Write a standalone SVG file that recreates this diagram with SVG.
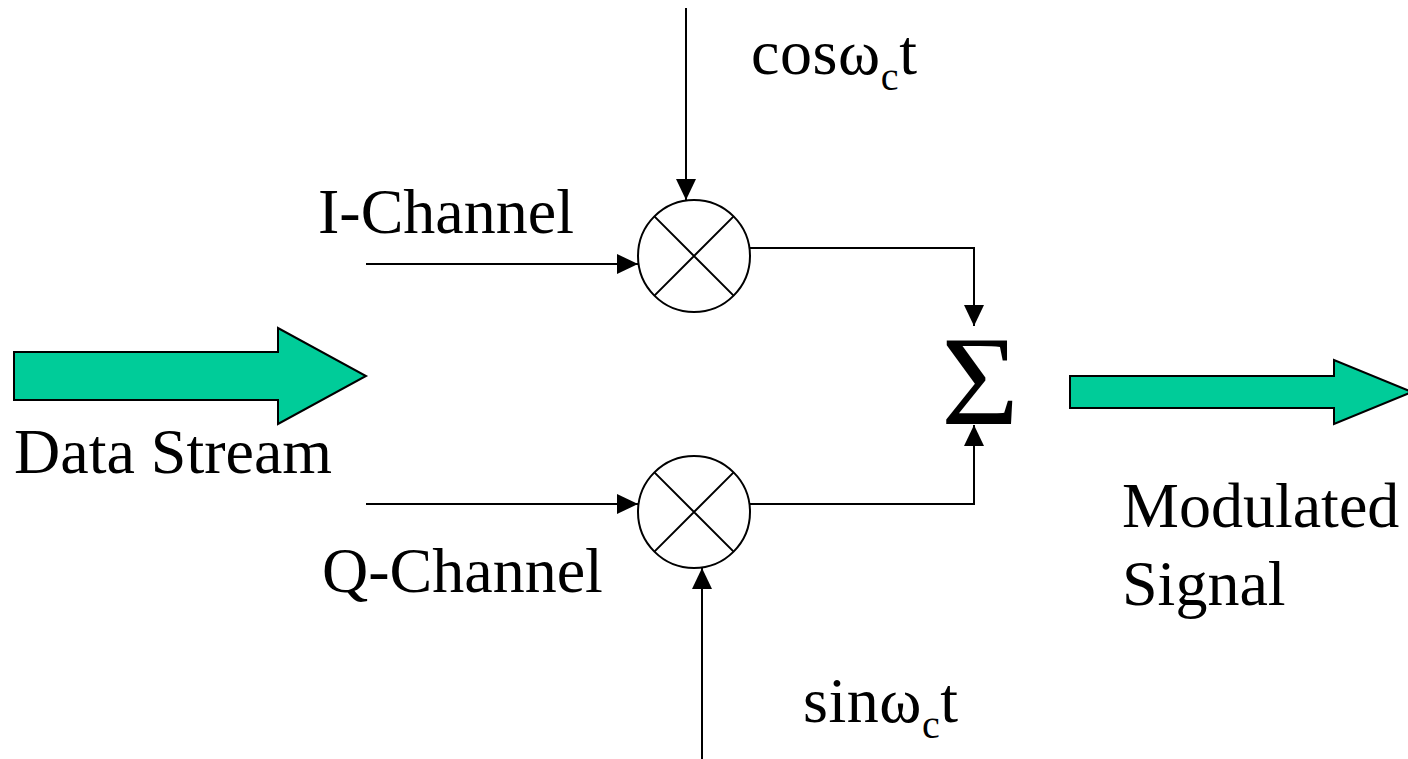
<svg xmlns="http://www.w3.org/2000/svg" width="1408" height="759" viewBox="0 0 1408 759">
<style>
text{font-family:"Liberation Serif","Times New Roman",serif;font-size:64px;fill:#000}
.sub{font-size:40px}
.w{fill:none;stroke:#000;stroke-width:2}
.big{fill:#00cc99;stroke:#000;stroke-width:2}
.mix{fill:#fff;stroke:#000;stroke-width:2}
</style>
<defs><marker id="a" markerUnits="userSpaceOnUse" markerWidth="22" markerHeight="20" refX="21" refY="10" orient="auto"><path d="M0 0L21 10L0 20Z" fill="#000"/></marker></defs>
<rect width="1408" height="759" fill="#fff"/>
<g id="connectors">
<path class="w" marker-end="url(#a)" d="M686 8V200"/>
<path class="w" marker-end="url(#a)" d="M366 264H638"/>
<path class="w" marker-end="url(#a)" d="M366 504H638"/>
<path class="w" marker-end="url(#a)" d="M702 759V568"/>
<path class="w" marker-end="url(#a)" d="M750 248H974V326"/>
<path class="w" marker-end="url(#a)" d="M750 504H974V425"/>
</g>
<g id="mixer-i"><circle class="mix" cx="694" cy="256" r="56"/><path class="w" d="M654.400 216.400L733.600 295.600M733.600 216.400L654.400 295.600"/></g>
<g id="mixer-q"><circle class="mix" cx="694" cy="512" r="56"/><path class="w" d="M654.400 472.400L733.600 551.600M733.600 472.400L654.400 551.600"/></g>
<g id="data-arrow"><path class="big" d="M14 352H278V328L366 376L278 424V400H14Z"/><text x="14" y="473">Data Stream</text></g>
<g id="out-arrow"><path class="big" d="M1070 376H1334V360L1412 392L1334 424V408H1070Z"/></g>
<g id="sum"><text x="941" y="424" textLength="78" lengthAdjust="spacingAndGlyphs" style="font-size:128px">Σ</text></g>
<g id="labels">
<text x="751" y="74" textLength="166" lengthAdjust="spacing">cosω<tspan class="sub" dy="16">c</tspan><tspan dy="-16">t</tspan></text>
<text x="318" y="233">I-Channel</text>
<text x="322" y="592">Q-Channel</text>
<text x="1122" y="527">Modulated</text>
<text x="1122" y="605">Signal</text>
<text x="803" y="722" textLength="155" lengthAdjust="spacing">sinω<tspan class="sub" dy="16">c</tspan><tspan dy="-16">t</tspan></text>
</g>
</svg>
